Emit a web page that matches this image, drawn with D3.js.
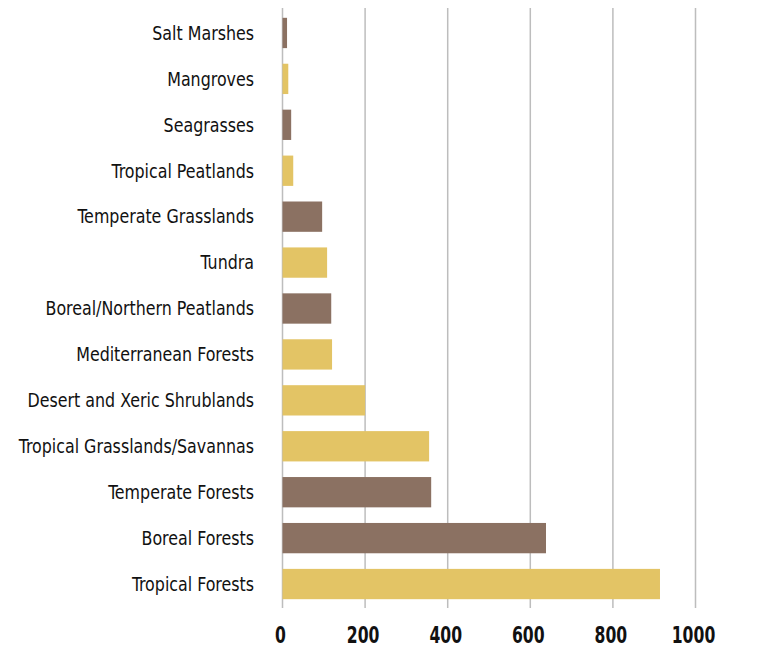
<!DOCTYPE html>
<html>
<head>
<meta charset="utf-8">
<script src="https://cdn.jsdelivr.net/npm/d3@7"></script>
<style>
	body { margin: 0; background: #fff; }
	text { font-family: "DejaVu Sans Condensed", "DejaVu Sans", sans-serif; }
</style>
</head>
<body>
<div id="graph"></div>
<script>
var categories = ["Salt Marshes", "Mangroves", "Seagrasses", "Tropical Peatlands",
	"Temperate Grasslands", "Tundra", "Boreal/Northern Peatlands", "Mediterranean Forests",
	"Desert and Xeric Shrublands", "Tropical Grasslands/Savannas", "Temperate Forests",
	"Boreal Forests", "Tropical Forests"];
var values = [11, 14, 21, 26, 96, 108, 118, 120, 200, 355, 360, 638, 914];
var groups = ["b", "g", "b", "g", "b", "g", "b", "g", "g", "g", "b", "b", "g"];
var ticks = [0, 200, 400, 600, 800, 1000];

var width = 772;
var height = 668;

var svg = d3.select("#graph")
	.append("svg")
	.attr("width", width)
	.attr("height", height);

var x = d3.scaleLinear()
	.domain([0, 1000])
	.range([282.5, 695.5]);

var y = d3.scaleBand()
	.domain(categories)
	.range([10, 607])
	.paddingInner(0.34)
	.paddingOuter(0.17);

var color = d3.scaleOrdinal()
	.domain(["b", "g"])
	.range(["#8b7162", "#e3c465"]);

// gridlines
svg.append("g")
	.selectAll("line")
	.data(ticks)
	.enter()
	.append("line")
	.attr("x1", (d) => x(d))
	.attr("x2", (d) => x(d))
	.attr("y1", 8)
	.attr("y2", 608)
	.attr("stroke", "#bdbdbd")
	.attr("stroke-width", 1.5);

svg.append("g")
	.selectAll("rect")
	.data(values)
	.enter()
	.append("rect")
	.attr("x", x(0))
	.attr("y", (d, i) => y(categories[i]))
	.attr("width", (d) => x(d) - x(0))
	.attr("height", y.bandwidth())
	.attr("fill", (d, i) => color(groups[i]));

// category labels (squeezed to look condensed)
svg.append("g")
	.selectAll("text")
	.data(categories)
	.enter()
	.append("text")
	.attr("transform", (d) => "translate(254," + (y(d) + y.bandwidth() / 2) + ") scale(0.905,1)")
	.attr("dy", "0.35em")
	.attr("text-anchor", "end")
	.attr("font-size", 19.5)
	.attr("fill", "#111")
	.text((d) => d);

// x axis labels
var xAxis = d3.axisBottom(x)
	.tickValues(ticks)
	.tickFormat(d3.format("d"))
	.tickSize(0)
	.tickPadding(0);

var ax = svg.append("g")
	.attr("transform", "translate(0,626)")
	.call(xAxis);
ax.select(".domain").remove();
ax.selectAll("text")
	.attr("dy", "0.71em")
	.attr("transform", "scale(0.74,1)")
	.attr("font-size", 23.5)
	.attr("font-weight", "bold")
	.attr("fill", "#111")
	.style("font-family", "\"DejaVu Sans Condensed\", \"DejaVu Sans\", sans-serif");
ax.selectAll(".tick")
	.attr("transform", (d) => "translate(" + (x(d) - 2) + ",0)");
</script>
</body>
</html>
